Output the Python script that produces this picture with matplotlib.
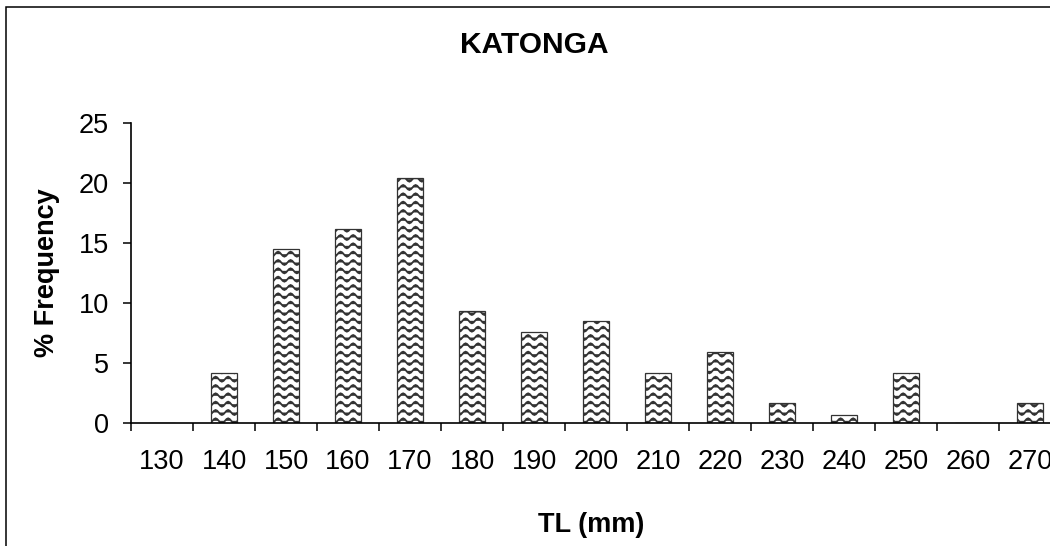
import warnings
import numpy as np
import matplotlib
matplotlib.use('Agg')
from matplotlib import pyplot as plt
from matplotlib import hatch as mhatch
from matplotlib.path import Path
from matplotlib.patches import Rectangle

warnings.filterwarnings('ignore')

# data
tl_classes = ['130', '140', '150', '160', '170', '180', '190', '200',
              '210', '220', '230', '240', '250', '260', '270']
pct_freq = [0, 4.2, 14.5, 16.2, 20.4, 9.3, 7.6, 8.5,
            4.2, 5.9, 1.7, 0.7, 4.2, 0, 1.7]
y_ticks = [0, 5, 10, 15, 20, 25]

WAVE_ROWS = 12     # rows of waves per hatch tile (one inch)
WAVE_PERIODS = 8   # wave periods across one tile
WAVE_AMP = 0.025
WAVE_PTS = 65


class WaveHatch(mhatch.HatchPatternBase):
    # wavy fill like the excel "wave" pattern
    def __init__(self, hatch, density):
        self.num_lines = hatch.count('~') * WAVE_ROWS
        self.num_vertices = self.num_lines * WAVE_PTS

    def set_vertices_and_codes(self, vertices, codes):
        steps, stepsize = np.linspace(0.0, 1.0, self.num_lines, False, retstep=True)
        steps += stepsize / 2.
        xs = np.linspace(0.0, 1.0, WAVE_PTS)
        ys = WAVE_AMP * np.sin(2 * np.pi * WAVE_PERIODS * xs)
        for i, s in enumerate(steps):
            sl = slice(i * WAVE_PTS, (i + 1) * WAVE_PTS)
            vertices[sl, 0] = xs
            vertices[sl, 1] = s + ys
            codes[sl] = Path.LINETO
            codes[i * WAVE_PTS] = Path.MOVETO


mhatch._hatch_types.append(WaveHatch)

plt.rcParams['font.family'] = ['Liberation Sans', 'DejaVu Sans']
plt.rcParams['hatch.linewidth'] = 1.3

fig = plt.figure(figsize=(10.5, 5.46), dpi=100)
ax = fig.add_axes([131 / 1050, 123 / 546, 930 / 1050, 300 / 546])

x = np.arange(len(tl_classes))
ax.bar(x, pct_freq, width=0.43, color='white', edgecolor='#333333',
       linewidth=0.9, hatch='~')

ax.set_xlim(-0.5, len(tl_classes) - 0.5)
ax.set_ylim(0, 25)
ax.set_yticks(y_ticks)
ax.set_xticks(x)
ax.set_xticklabels(tl_classes)
# ticks sit between the categories like excel
ax.set_xticks(np.arange(len(tl_classes)) - 0.5, minor=True)
ax.tick_params(axis='x', which='major', length=0, pad=19, labelsize=19.5)
ax.tick_params(axis='x', which='minor', length=5.5, width=1.1, direction='out')
ax.tick_params(axis='y', length=5.5, width=1.1, pad=10.5, labelsize=19.5)

for side in ['top', 'right']:
    ax.spines[side].set_visible(False)
for side in ['left', 'bottom']:
    ax.spines[side].set_linewidth(1.2)
    ax.spines[side].set_clip_on(False)

fig.text(534.5 / 1050, 1 - 53.3 / 546, 'KATONGA', ha='center', va='baseline',
         fontsize=21.5, fontweight='bold')
fig.text(591.5 / 1050, 1 - 532 / 546, 'TL (mm)', ha='center', va='baseline',
         fontsize=19.5, fontweight='bold')
fig.text(47 / 1050, 1 - 273 / 546, '% Frequency', ha='center', va='center',
         rotation=90, fontsize=19.5, fontweight='bold')

# chart area border, cut off at right and bottom
fig.patches.append(Rectangle((5.5 / 1050, -0.1), 1.2, 1.1 - 6.5 / 546,
                             transform=fig.transFigure, fill=False,
                             edgecolor='black', linewidth=1.1))

fig.savefig('out.png', dpi=100)
